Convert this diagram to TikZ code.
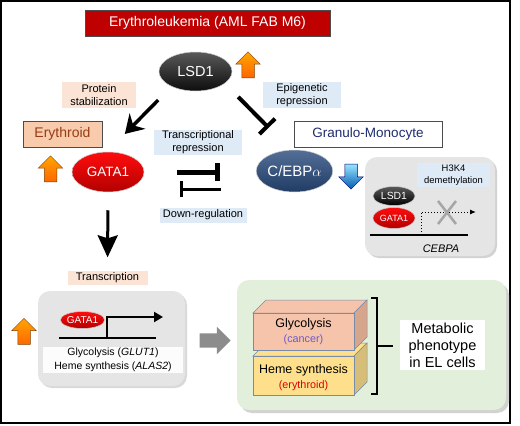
\documentclass[tikz,border=0pt]{standalone}
\usepackage{fontspec}
\setmainfont{Liberation Sans}
\usetikzlibrary{arrows.meta,shapes.geometric,shapes.arrows}
\definecolor{myred}{rgb}{0.75,0,0}
\definecolor{mypeach}{RGB}{251,228,214}
\definecolor{myskin}{RGB}{248,203,173}
\definecolor{mylightblue}{RGB}{222,234,246}
\definecolor{mynavy}{RGB}{30,45,110}
\definecolor{mybrown}{RGB}{150,60,20}
\definecolor{mygreen}{RGB}{226,239,218}
\definecolor{mygray}{gray}{0.9}
\definecolor{mysalmon}{RGB}{246,196,170}
\definecolor{mysalmonside}{RGB}{214,166,140}
\definecolor{myyellow}{RGB}{254,224,140}
\definecolor{myyellowside}{RGB}{214,190,120}
\definecolor{myedge}{RGB}{120,140,170}
\definecolor{mypurple}{RGB}{110,90,200}
\definecolor{myblue}{RGB}{40,75,125}

\tikzset{
  notebox/.style={inner sep=0pt, align=center, font=\fontsize{11}{13}\selectfont},
  protein/.style={ellipse, inner sep=0pt, text=white, draw=gray!40, line width=0.5pt},
  uparrow/.style={single arrow, shape border rotate=90, inner sep=6pt,
    minimum height=26pt, single arrow head extend=6pt,
    top color=orange!70!yellow, bottom color=orange!80!red, draw=orange!50!black, line width=0.5pt},
  bigarrow/.style={line width=3.5pt, -{Stealth[length=18pt,width=22pt,inset=6pt]}},
  inhibit/.style={line width=4pt, -{Bar[width=22pt]}},
  roundbox/.style={rounded corners=12pt}
}

\begin{document}
\begin{tikzpicture}[x=1pt,y=-1pt]
\useasboundingbox (0,0) rectangle (520,426);
\draw[line width=1.5pt] (1,1) rectangle (510,423);

% title
\node[fill=myred, draw=gray!60!black, line width=0.4pt, minimum width=245pt, minimum height=26pt,
  inner sep=0pt, text=white, font=\fontsize{14}{16}\selectfont] (title) at (207.5,23) {Erythroleukemia (AML FAB M6)};

% proteins
\node[protein, minimum width=73pt, minimum height=39pt, top color=gray!70!black, bottom color=black!95,
  font=\fontsize{14.5}{16}\selectfont] (lsd) at (195.5,71.5) {LSD1};
\node[protein, minimum width=72pt, minimum height=40pt, top color=red!95!white, bottom color=red!70!black,
  font=\fontsize{13.5}{16}\selectfont] (gata) at (108,172) {GATA1};
\node[protein, minimum width=73pt, minimum height=42pt, top color=myblue!80!white, bottom color=myblue!80!black,
  font=\fontsize{15}{16}\selectfont] (cebpa) at (294.5,171) {C/EBP$\alpha$};

\node[uparrow] (up1) at (248,68) {};
\node[uparrow] (up2) at (50.5,172) {};
\node[uparrow] (up3) at (24,334.5) {};
\node[single arrow, shape border rotate=270, inner sep=6pt, minimum height=25pt,
  single arrow head extend=6pt, top color=blue!25!cyan!40, bottom color=blue!50!cyan!70!black,
  draw=blue!40!black, line width=0.5pt] (down1) at (351,173.5) {};

% labels
\node[notebox, fill=mypeach, minimum width=74pt, minimum height=26pt] (stab) at (99,95) {Protein\\stabilization};
\node[notebox, fill=mylightblue, minimum width=78pt, minimum height=26pt] (epi) at (302,95) {Epigenetic\\repression};
\node[notebox, fill=mylightblue, minimum width=88pt, minimum height=25pt] (trep) at (198,142.5) {Transcriptional\\repression};
\node[notebox, fill=mylightblue, minimum width=87pt, minimum height=15pt] (down) at (203,215) {Down-regulation};
\node[notebox, fill=mypeach, minimum width=80pt, minimum height=14pt] (transcr) at (107.5,277.5) {Transcription};

\node[fill=myskin, draw=gray!60!black, line width=0.6pt, minimum width=79pt, minimum height=26pt, inner sep=0pt,
  text=mybrown, font=\fontsize{14}{16}\selectfont] (eryth) at (62.5,134) {Erythroid};
\node[fill=white, draw=gray!60!black, line width=0.6pt, minimum width=148pt, minimum height=26pt, inner sep=0pt,
  text=mynavy, font=\fontsize{13.5}{16}\selectfont] (gran) at (368,134) {Granulo-Monocyte};

% connectors
\draw[bigarrow, shorten <=19pt, shorten >=25pt] (lsd.212) -- (gata.92);
\draw[inhibit, shorten <=19pt, shorten >=31pt] (lsd.338) -- (cebpa.101);
\draw[line width=5pt, -{Bar[width=18pt]}, shorten <=33pt, shorten >=36pt] (gata.east) -- (gata.east -| cebpa.west);
\draw[line width=3pt, -{Bar[width=16pt]}, shorten <=35pt, shorten >=36pt]
  ([yshift=-18pt]cebpa.west) -- ([yshift=-18pt]cebpa.west -| gata.east);
\draw[line width=3pt, -{Stealth[length=22pt,width=20pt,inset=3pt]}, shorten <=18pt, shorten >=13pt]
  (gata.south) -- (transcr.north);

% CEBPA locus
\fill[gray!35, roundbox] (367,159) rectangle (497,258);
\fill[mygray, roundbox] (365,157) rectangle (495,256);
\node[notebox, fill=mylightblue, minimum width=73pt, minimum height=24pt,
  font=\fontsize{9.4}{11.5}\selectfont] (h3k4) at (453.5,175) {H3K4\\demethylation};
\draw[line width=2pt] (370,235) -- (468,235);
\draw[line width=1pt, dotted, -{Latex[length=6pt,width=5pt]}] (421,235) |- (476,212);
\draw[gray!70, line width=2.5pt] (438,201) -- (456,224) (456,201) -- (438,224);
\node[protein, minimum width=42pt, minimum height=19pt, top color=gray!70!black, bottom color=black,
  font=\fontsize{10.4}{12}\selectfont] (lsdb) at (394,196) {LSD1};
\node[protein, minimum width=42pt, minimum height=21pt, top color=red!95!white, bottom color=red!70!black,
  font=\fontsize{9}{11}\selectfont] (gatab) at (394,218) {GATA1};
\node[font=\fontsize{11}{13}\selectfont\itshape] (cebpagene) at (441,249) {CEBPA};

% GATA1 target genes
\fill[gray!30, roundbox] (40,293) rectangle (187,388);
\fill[mygray, roundbox] (38,291) rectangle (185,386);
\draw[line width=2.5pt] (59,338) -- (156,338);
\draw[line width=2.5pt, -{Triangle[length=9pt,width=10pt]}] (107,339) |- (163,317);
\node[protein, minimum width=41pt, minimum height=17pt, top color=red!95!white, bottom color=red!70!black,
  font=\fontsize{10}{12}\selectfont] (gatac) at (82.5,320) {GATA1};
\node[fill=white, fill opacity=0.9, text opacity=1, minimum width=140pt, minimum height=26pt, inner sep=0pt,
  align=center, font=\fontsize{10.5}{13.5}\selectfont] (genes) at (113,360)
  {Glycolysis (\textit{GLUT1})\\Heme synthesis (\textit{ALAS2})};

\node[single arrow, inner sep=7pt, minimum height=31pt, single arrow head extend=6.5pt,
  fill=black!45] (rarr) at (211.5,340.5) {};

% metabolic phenotype
\fill[gray!35, roundbox] (240,283) rectangle (509,413);
\fill[mygreen, roundbox] (237,280) rectangle (506,410);
\begin{scope}[draw=myedge, line width=0.5pt]
\filldraw[fill=myyellow] (253,356) -- (266,343) -- (367,343) -- (354,356) -- cycle;
\filldraw[fill=myyellowside] (354,356) -- (367,343) -- (367,382) -- (354,395) -- cycle;
\filldraw[fill=myyellow] (253,356) rectangle (354,395);
\filldraw[fill=mysalmon] (253,313) -- (266,300) -- (367,300) -- (354,313) -- cycle;
\filldraw[fill=mysalmonside] (354,313) -- (367,300) -- (367,337) -- (354,350) -- cycle;
\filldraw[fill=mysalmon] (253,313) rectangle (354,350);
\end{scope}
\node[font=\fontsize{12.5}{14}\selectfont] (glyc) at (303.5,324) {Glycolysis};
\node[font=\fontsize{10.8}{13}\selectfont, text=mypurple] (cancer) at (303.5,340) {(cancer)};
\node[font=\fontsize{12.5}{14}\selectfont] (heme) at (303.5,370) {Heme synthesis};
\node[font=\fontsize{10.8}{13}\selectfont, text=red!85!black] (erythr) at (303.5,386) {(erythroid)};
\draw[line width=2pt] (371,298) -- (377,298) -- (377,394) -- (371,394) (377,346) -- (393,346);
\node[fill=white, minimum width=85pt, minimum height=50pt, inner sep=0pt, align=center,
  font=\fontsize{14.5}{17}\selectfont] (pheno) at (442.5,345) {Metabolic\\phenotype\\in EL cells};
\end{tikzpicture}
\end{document}
